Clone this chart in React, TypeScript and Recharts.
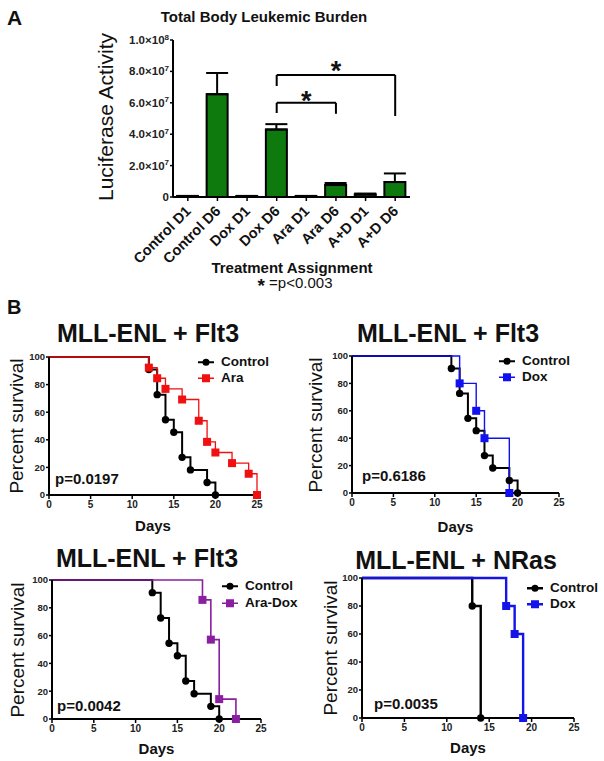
import React from 'react';
import {
  BarChart, Bar, XAxis, YAxis, ErrorBar, ReferenceLine, ReferenceDot,
  LineChart, Line,
} from 'recharts';

const FONT = '"Liberation Sans", Arial, Helvetica, sans-serif';
const INK = '#111';

// ---------- Panel A data ----------
const treatments = ['Control D1', 'Control D6', 'Dox D1', 'Dox D6', 'Ara D1', 'Ara D6', 'A+D D1', 'A+D D6'];
const luciferase = [5e5, 6.55e7, 5e5, 4.3e7, 5e5, 7.6e6, 1.6e6, 9.5e6];
const luciferaseSem = [2e5, 1.35e7, 2e5, 3.4e6, 2e5, 1.3e6, 6e5, 5.5e6];
const lucTicks = [0, 2e7, 4e7, 6e7, 8e7, 1e8];

// ---------- Panel B data (Kaplan-Meier) ----------
const controlFlt3Days = [0, 12, 13, 14, 15, 16, 17, 19, 20];
const controlFlt3Pct = [100, 90.9, 72.7, 54.5, 45.5, 27.3, 18.2, 9.1, 0];
const araDays = [0, 12, 13, 14, 16, 18, 19, 20, 22, 24, 25];
const araPct = [100, 92.3, 84.6, 76.9, 69.2, 53.8, 38.5, 30.8, 23.1, 15.4, 0];
const doxFlt3Days = [0, 13, 15, 16, 19];
const doxFlt3Pct = [100, 80, 60, 40, 0];
const araDoxDays = [0, 18, 19, 20, 22];
const araDoxPct = [100, 85.7, 57.1, 14.3, 0];
const controlNrasDays = [0, 13, 14];
const controlNrasPct = [100, 80, 0];
const doxNrasDays = [0, 17, 18, 19];
const doxNrasPct = [100, 80, 60, 0];
const dayTicks = [0, 5, 10, 15, 20, 25];
const pctTicks = [0, 20, 40, 60, 80, 100];

const barData = treatments.map((t, i) => ({ name: t, value: luciferase[i], err: [0, luciferaseSem[i]] }));
const toPoints = (days: number[], pct: number[]) => days.map((d, i) => ({ day: d, pct: pct[i] }));

type Marker = 'circle' | 'square';
type Series = { name: string; points: { day: number; pct: number }[]; color: string; width: number; marker: Marker };

const Txt = ({ x, y, size, bold, anchor = 'middle', rotate, children }: any) => {
  const tx = anchor === 'middle' ? '-50%' : anchor === 'end' ? '-100%' : '0';
  let transform = `translate(${tx}, -50%)`;
  if (rotate) transform += ` rotate(${rotate}deg)`;
  return (
    <div style={{
      position: 'absolute', left: x, top: y, transform, whiteSpace: 'nowrap',
      fontSize: size, fontWeight: bold ? 'bold' : 'normal', lineHeight: 1, fontFamily: FONT, color: INK,
    }}>{children}</div>
  );
};

const SciTick = (props: any) => {
  const { x, y, payload } = props;
  const v = payload.value as number;
  let body: any;
  if (v === 0) body = <tspan>0</tspan>;
  else {
    const e = Math.floor(Math.log10(v) + 1e-9);
    const m = (v / Math.pow(10, e)).toFixed(1);
    body = (<><tspan>{m}×10</tspan><tspan dy={-4.5} fontSize={8}>{e}</tspan></>);
  }
  return (
    <text x={x} y={y} dy={4} textAnchor="end" fontSize={11.5} fontWeight="bold" fill="#222" fontFamily={FONT}>{body}</text>
  );
};

const CatTick = (props: any) => {
  const { x, y, payload } = props;
  return (
    <g transform={`translate(${x + 4}, ${y + 9}) rotate(-45)`}>
      <text x={0} y={0} textAnchor="end" fontSize={14.5} fontWeight="bold" fill={INK} fontFamily={FONT}>{payload.value}</text>
    </g>
  );
};

const Star = (props: any) => (
  <text x={props.cx} y={props.cy + 15} textAnchor="middle" fontSize={27} fontWeight="bold" fill={INK} fontFamily={FONT}>*</text>
);

const seg = (x1: string, y1: number, x2: string, y2: number, k: string) => (
  <ReferenceLine key={k} segment={[{ x: x1, y: y1 }, { x: x2, y: y2 }]} stroke="#000" strokeWidth={2} ifOverflow="visible" />
);

const makeDot = (color: string, marker: Marker) => (props: any) => {
  const { cx, cy, index } = props;
  if (index === 0 || cx == null || cy == null) return <g key={`e${index}`} />;
  if (marker === 'circle') return <circle key={`d${index}`} cx={cx} cy={cy} r={3.7} fill={color} />;
  return <rect key={`d${index}`} x={cx - 4} y={cy - 4} width={8} height={8} fill={color} />;
};

const LegendIcon = ({ color, width, marker }: any) => (
  <svg width={16} height={10} style={{ display: 'block' }}>
    <line x1={0} y1={5} x2={16} y2={5} stroke={color} strokeWidth={Math.max(width, 1.5)} />
    {marker === 'circle' ? <circle cx={8} cy={5} r={3.5} fill={color} /> : <rect x={4} y={1} width={8} height={8} fill={color} />}
  </svg>
);

type PanelCfg = {
  key: string; title: string; titleX: number; titleY: number;
  plot: { x0: number; x1: number; y0: number; y1: number };
  series: Series[]; p: string; pX: number; pY: number;
  legX: number; legY: number; legGap: number; daysY: number; ylabX: number;
};

const SurvivalPanel = ({ cfg }: { cfg: PanelCfg }) => {
  const { plot } = cfg;
  const w = plot.x1 - plot.x0 + 50;
  const h = plot.y1 - plot.y0 + 40;
  const cx = (plot.x0 + plot.x1) / 2;
  const cy = (plot.y0 + plot.y1) / 2;
  return (
    <>
      <Txt x={cfg.titleX} y={cfg.titleY} size={25} bold>{cfg.title}</Txt>
      <div style={{ position: 'absolute', left: plot.x0 - 40, top: plot.y0 - 10 }}>
        <LineChart width={w} height={h} margin={{ top: 10, right: 10, left: 5, bottom: 0 }}>
          <XAxis dataKey="day" type="number" domain={[0, 25]} ticks={dayTicks} interval={0} height={30}
            axisLine={{ stroke: '#000', strokeWidth: 2 }} tickLine={{ stroke: '#000', strokeWidth: 1.5 }}
            tickSize={4} tickMargin={2} tick={{ fontSize: 10, fontWeight: 'bold', fill: '#222', fontFamily: FONT }}
            allowDuplicatedCategory={false} />
          <YAxis type="number" domain={[0, 100]} ticks={pctTicks} interval={0} width={35}
            axisLine={{ stroke: '#000', strokeWidth: 2 }} tickLine={{ stroke: '#000', strokeWidth: 1.5 }}
            tickSize={3} tickMargin={1} tick={{ fontSize: 9.5, fontWeight: 'bold', fill: '#222', fontFamily: FONT }} />
          {cfg.series.map((s) => (
            <Line key={s.name} data={s.points} dataKey="pct" name={s.name} type="stepAfter" stroke={s.color}
              strokeWidth={s.width} dot={makeDot(s.color, s.marker)} activeDot={false} isAnimationActive={false} />
          ))}
        </LineChart>
      </div>
      <Txt x={cfg.ylabX} y={cy} size={19} rotate={-90}>Percent survival</Txt>
      <Txt x={cx} y={cfg.daysY} size={15} bold>Days</Txt>
      <Txt x={cfg.pX} y={cfg.pY} size={15} bold anchor="start">{cfg.p}</Txt>
      {cfg.series.map((s, i) => (
        <div key={s.name} style={{ position: 'absolute', left: cfg.legX, top: cfg.legY + i * cfg.legGap, transform: 'translate(0,-50%)', display: 'flex', alignItems: 'center' }}>
          <LegendIcon color={s.color} width={s.width} marker={s.marker} />
          <span style={{ marginLeft: 7, fontSize: 13.5, fontWeight: 'bold', fontFamily: FONT, color: INK, lineHeight: 1 }}>{s.name}</span>
        </div>
      ))}
    </>
  );
};

const BLACK = '#000';
const controlFlt3 = (w: number): Series => ({ name: 'Control', points: toPoints(controlFlt3Days, controlFlt3Pct), color: BLACK, width: w, marker: 'circle' });

const panels: PanelCfg[] = [
  {
    key: 'tl', title: 'MLL-ENL + Flt3', titleX: 148, titleY: 333,
    plot: { x0: 49, x1: 257, y0: 357, y1: 495 },
    series: [controlFlt3(2), { name: 'Ara', points: toPoints(araDays, araPct), color: '#f01010', width: 1.3, marker: 'square' }],
    p: 'p=0.0197', pX: 55, pY: 478, legX: 198, legY: 362, legGap: 16, daysY: 525, ylabX: 16,
  },
  {
    key: 'tr', title: 'MLL-ENL + Flt3', titleX: 448, titleY: 333,
    plot: { x0: 352, x1: 559, y0: 356, y1: 493 },
    series: [controlFlt3(2), { name: 'Dox', points: toPoints(doxFlt3Days, doxFlt3Pct), color: '#1010f0', width: 1.4, marker: 'square' }],
    p: 'p=0.6186', pX: 362, pY: 475, legX: 499, legY: 361, legGap: 16, daysY: 526, ylabX: 315,
  },
  {
    key: 'bl', title: 'MLL-ENL + Flt3', titleX: 147, titleY: 558,
    plot: { x0: 52, x1: 261, y0: 580, y1: 719 },
    series: [controlFlt3(2), { name: 'Ara-Dox', points: toPoints(araDoxDays, araDoxPct), color: '#8a1fa0', width: 1.6, marker: 'square' }],
    p: 'p=0.0042', pX: 57, pY: 705, legX: 222, legY: 586, legGap: 17, daysY: 748, ylabX: 17,
  },
  {
    key: 'br', title: 'MLL-ENL + NRas', titleX: 456, titleY: 560,
    plot: { x0: 362, x1: 574, y0: 578, y1: 718 },
    series: [
      { name: 'Control', points: toPoints(controlNrasDays, controlNrasPct), color: BLACK, width: 2.4, marker: 'circle' },
      { name: 'Dox', points: toPoints(doxNrasDays, doxNrasPct), color: '#1414e8', width: 2.4, marker: 'square' },
    ],
    p: 'p=0.0035', pX: 374, pY: 703, legX: 527, legY: 588, legGap: 16, daysY: 747, ylabX: 330,
  },
];

export default function App() {
  return (
    <div style={{ position: 'absolute', left: 0, top: 0, width: 604, height: 761, background: '#fff', overflow: 'hidden', fontFamily: FONT }}>
      <Txt x={7} y={17} size={21} bold anchor="start">A</Txt>
      <Txt x={264} y={16} size={15} bold>Total Body Leukemic Burden</Txt>
      <div style={{ position: 'absolute', left: 0, top: 0 }}>
        <BarChart width={604} height={300} data={barData} margin={{ top: 40, right: 194, left: 93, bottom: 13 }}>
          <XAxis dataKey="name" type="category" height={90} interval={0} tick={<CatTick />}
            tickSize={4} tickMargin={2}
            axisLine={{ stroke: '#000', strokeWidth: 2 }} tickLine={{ stroke: '#000', strokeWidth: 1.5 }} />
          <YAxis width={80} type="number" domain={[0, 1e8]} ticks={lucTicks} interval={0} tick={<SciTick />}
            tickSize={3} tickMargin={1} axisLine={{ stroke: '#000', strokeWidth: 2 }} tickLine={{ stroke: '#000', strokeWidth: 1.5 }} />
          <Bar dataKey="value" fill="#0e7a0e" stroke="#000" strokeWidth={2} barSize={21} isAnimationActive={false}>
            <ErrorBar dataKey="err" width={11} stroke="#000" strokeWidth={2} direction="y" />
          </Bar>
          {seg('Dox D6', 5.35e7, 'Dox D6', 6.0e7, 'b1')}
          {seg('Dox D6', 6.0e7, 'Ara D6', 6.0e7, 'b2')}
          {seg('Ara D6', 6.0e7, 'Ara D6', 5.3e7, 'b3')}
          {seg('Dox D6', 7.07e7, 'Dox D6', 7.77e7, 'c1')}
          {seg('Dox D6', 7.77e7, 'A+D D6', 7.77e7, 'c2')}
          {seg('A+D D6', 7.77e7, 'A+D D6', 5.16e7, 'c3')}
          <ReferenceDot x="Ara D1" y={6.5e7} r={0} shape={<Star />} ifOverflow="visible" />
          <ReferenceDot x="Ara D6" y={8.4e7} r={0} shape={<Star />} ifOverflow="visible" />
        </BarChart>
      </div>
      <Txt x={105} y={117} size={21} rotate={-90}>Luciferase Activity</Txt>
      <Txt x={292} y={267} size={15} bold>Treatment Assignment</Txt>
      <Txt x={295} y={285} size={15}><b style={{ fontSize: 19, verticalAlign: '-4px' }}>*</b> =p&lt;0.003</Txt>
      <Txt x={7} y={307} size={20} bold anchor="start">B</Txt>
      {panels.map((p) => <SurvivalPanel key={p.key} cfg={p} />)}
    </div>
  );
}
